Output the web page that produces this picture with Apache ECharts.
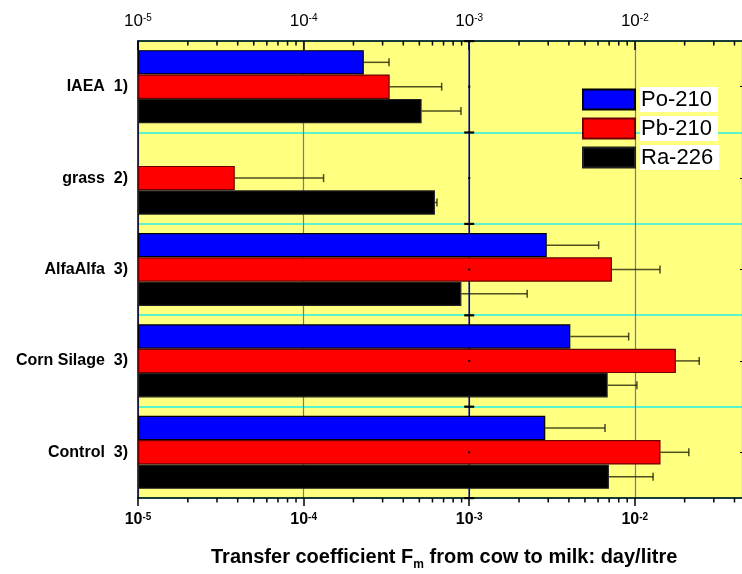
<!DOCTYPE html>
<html><head><meta charset="utf-8">
<script src="https://cdn.jsdelivr.net/npm/echarts@6/dist/echarts.min.js"></script>
<style>html,body{margin:0;padding:0;background:#fff}#c{width:742px;height:574px}</style>
</head><body><div id="c"></div>
<script>
// ---- data ----
const categories = ['IAEA  1)', 'grass  2)', 'AlfaAlfa  3)', 'Corn Silage  3)', 'Control  3)'];
const seriesNames = ['Po-210', 'Pb-210', 'Ra-226'];
const po210 = [2.31e-4, null, 2.94e-3, 4.08e-3, 2.88e-3];
const po210Upper = [3.28e-4, null, 6.05e-3, 9.18e-3, 6.61e-3];
const pb210 = [3.31e-4, 3.84e-5, 7.28e-3, 1.77e-2, 1.43e-2];
const pb210Upper = [6.82e-4, 1.32e-4, 1.42e-2, 2.45e-2, 2.12e-2];
const ra226 = [5.16e-4, 6.21e-4, 8.97e-4, 6.86e-3, 6.98e-3];
const ra226Upper = [8.92e-4, 6.39e-4, 2.24e-3, 1.03e-2, 1.29e-2];
const majorTickExponents = [-5, -4, -3, -2];
const minorTicks = [2e-5,3e-5,4e-5,5e-5,6e-5,7e-5,8e-5,9e-5,
                    2e-4,3e-4,4e-4,5e-4,6e-4,7e-4,8e-4,9e-4,
                    2e-3,3e-3,4e-3,5e-3,6e-3,7e-3,8e-3,9e-3,
                    2e-2,3e-2,4e-2];
const xMin = 1e-5, xMax = 0.0444;
const midAxisValue = 1e-3;
const axisTitle = ['Transfer coefficient F', 'm', ' from cow to milk: day/litre'];

// ---- build ----
const FONT = 'Arial, "Liberation Sans", sans-serif';
const values = [po210, pb210, ra226];
const uppers = [po210Upper, pb210Upper, ra226Upper];
const colors = ['#0000ff', '#ff0000', '#000000'];
const borders = ['#000000', '#6a0000', '#222222'];

function labelFmt(v) {
  const l = Math.log10(v);
  const e = Math.round(l);
  if (Math.abs(l - e) > 1e-6 || majorTickExponents.indexOf(e) < 0) return '';
  return '{b|10}{s|' + e + '}';
}

const errData = [];
values.forEach((arr, s) => arr.forEach((v, i) => {
  if (v != null && uppers[s][i] != null) errData.push([uppers[s][i], i, v, s]);
}));

const barSeries = seriesNames.map((n, s) => ({
  name: n, type: 'bar', xAxisIndex: 0, yAxisIndex: 0,
  data: values[s], barGap: '0%', barCategoryGap: '20%',
  itemStyle: { color: colors[s], borderColor: borders[s], borderWidth: 1.2 },
  z: 2
}));

const option = {
  animation: false,
  backgroundColor: '#ffffff',
  grid: { left: 138, right: 0, top: 41, bottom: 76, show: true, backgroundColor: '#ffff80', borderWidth: 0 },
  title: {
    left: 206, top: 542,
    text: '{a|' + axisTitle[0] + '}{s|' + axisTitle[1] + '}{a|' + axisTitle[2] + '}',
    textStyle: {
      rich: {
        a: { fontFamily: FONT, fontWeight: 'bold', fontSize: 20, color: '#000', lineHeight: 24, verticalAlign: 'top' },
        s: { fontFamily: FONT, fontWeight: 'bold', fontSize: 12, color: '#000', lineHeight: 12, verticalAlign: 'bottom' }
      }
    }
  },
  legend: {
    orient: 'vertical', left: 582, top: 87, padding: 0, itemGap: 4,
    itemWidth: 52, itemHeight: 20, icon: 'rect',
    data: seriesNames,
    textStyle: { fontFamily: FONT, fontSize: 22, color: '#000', backgroundColor: '#fff', padding: [1, 6, 1, 1], lineHeight: 23 }
  },
  xAxis: [{
    type: 'log', position: 'bottom', min: xMin, max: xMax, logBase: 10, startValue: xMin,
    axisLine: { show: true, lineStyle: { color: '#000', width: 1.5 } },
    axisTick: { show: true, inside: false, length: 8, lineStyle: { color: '#000', width: 1.5 } },
    axisLabel: { formatter: labelFmt, margin: 14, showMaxLabel: false,
      rich: { b: { fontFamily: FONT, fontWeight: 'bold', fontSize: 16, color: '#000' },
              s: { fontFamily: FONT, fontWeight: 'bold', fontSize: 10, color: '#000', verticalAlign: 'top' } } },
    splitLine: { show: true, lineStyle: { color: '#6e6ee6', width: 1.2 } },
    minorTick: { show: false }
  }, {
    type: 'log', position: 'top', min: xMin, max: xMax, logBase: 10,
    axisLine: { show: true, lineStyle: { color: '#000', width: 1.5 } },
    axisTick: { show: true, inside: true, length: 9, lineStyle: { color: '#000', width: 1.5 } },
    axisLabel: { formatter: labelFmt, margin: 11, showMaxLabel: false,
      rich: { b: { fontFamily: FONT, fontSize: 17, color: '#000' },
              s: { fontFamily: FONT, fontSize: 10, color: '#000', verticalAlign: 'top' } } },
    splitLine: { show: false }
  }],
  yAxis: [{
    type: 'category', data: categories, inverse: true, position: 'left',
    axisLine: { show: true, lineStyle: { color: '#000', width: 1.5 } },
    axisTick: { show: false },
    axisLabel: { margin: 10, fontFamily: FONT, fontWeight: 'bold', fontSize: 16, color: '#000' },
    splitLine: { show: true, interval: 0, lineStyle: { color: '#22f0e8', width: 1.5 } }
  }, {
    type: 'category', data: categories, inverse: true, position: 'right',
    axisLine: { show: false },
    axisTick: { show: true, inside: true, alignWithLabel: true, length: 2, lineStyle: { color: '#000', width: 1 } },
    axisLabel: { show: false },
    splitLine: { show: false }
  }],
  series: barSeries.concat([
    {
      type: 'custom', name: 'midLine', xAxisIndex: 0, yAxisIndex: 0, z: 1, silent: true,
      encode: { x: 0, y: 1 }, data: [[midAxisValue, 0]],
      renderItem: function (params, api) {
        const x = api.coord([api.value(0), 0])[0];
        const cs = params.coordSys;
        return { type: 'line', shape: { x1: x, y1: cs.y, x2: x, y2: cs.y + cs.height },
                 style: { stroke: '#00009a', lineWidth: 1.5 } };
      }
    },
    {
      type: 'custom', name: 'err', xAxisIndex: 0, yAxisIndex: 0, z: 3, silent: true,
      encode: { x: 0, y: 1 }, data: errData,
      renderItem: function (params, api) {
        const hi = api.value(0), cat = api.value(1), lo = api.value(2), s = api.value(3);
        const band = api.size([0, 1])[1];
        const bw = band * 0.8 / 3;
        const p0 = api.coord([lo, cat]);
        const p1 = api.coord([hi, cat]);
        const y = p0[1] + (s - 1) * bw;
        const st = { stroke: 'rgba(20,20,0,0.75)', lineWidth: 1.5 };
        return { type: 'group', children: [
          { type: 'line', shape: { x1: p0[0], y1: y, x2: p1[0], y2: y }, style: st },
          { type: 'line', shape: { x1: p1[0], y1: y - 4, x2: p1[0], y2: y + 4 }, style: st }
        ]};
      }
    },
    {
      type: 'custom', name: 'minor', xAxisIndex: 0, yAxisIndex: 0, z: 4, silent: true, clip: false,
      encode: { x: 0, y: 1 }, data: minorTicks.map(v => [v, 0]),
      renderItem: function (params, api) {
        const x = api.coord([api.value(0), 0])[0];
        const cs = params.coordSys;
        const st = { stroke: '#000', lineWidth: 1.5 };
        return { type: 'group', children: [
          { type: 'line', shape: { x1: x, y1: cs.y, x2: x, y2: cs.y + 4.5 }, style: st },
          { type: 'line', shape: { x1: x, y1: cs.y + cs.height, x2: x, y2: cs.y + cs.height + 4.5 }, style: st }
        ]};
      }
    },
    {
      type: 'custom', name: 'mid', xAxisIndex: 0, yAxisIndex: 0, z: 4, silent: true, clip: false,
      encode: { x: 0, y: 1 }, data: categories.map((c, i) => [midAxisValue, i]),
      renderItem: function (params, api) {
        const p = api.coord([api.value(0), api.value(1)]);
        const band = api.size([0, 1])[1];
        const st = { fill: '#000' };
        const ch = [
          { type: 'rect', shape: { x: p[0] - 1, y: p[1] - 1, width: 2, height: 2 }, style: st },
          { type: 'rect', shape: { x: p[0] - 5, y: p[1] - band / 2 - 1, width: 10, height: 2.2 }, style: st }
        ];
        if (params.dataIndex === categories.length - 1)
          ch.push({ type: 'rect', shape: { x: p[0] - 5, y: p[1] + band / 2 - 1, width: 10, height: 2.2 }, style: st });
        return { type: 'group', children: ch };
      }
    }
  ])
};

const chart = echarts.init(document.getElementById('c'), null, { renderer: 'canvas' });
chart.setOption(option);
</script>
</body></html>
